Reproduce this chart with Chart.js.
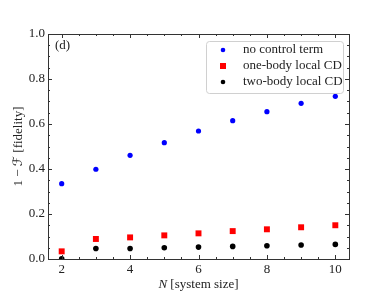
<!DOCTYPE html>
<html>
<head>
<meta charset="utf-8">
<script src="https://cdn.jsdelivr.net/npm/chart.js@4.4.1/dist/chart.umd.min.js"></script>
<style>
  html, body { margin: 0; padding: 0; background: #fff; }
  #wrap { width: 388px; height: 291px; position: relative; }
</style>
</head>
<body>
<div id="wrap"><canvas id="chart"></canvas></div>
<script>
// data
var sizes = [2, 3, 4, 5, 6, 7, 8, 9, 10];
var noControl = [0.335, 0.399, 0.461, 0.517, 0.569, 0.615, 0.655, 0.692, 0.723];
var oneBodyCD = [0.034, 0.089, 0.096, 0.105, 0.114, 0.124, 0.132, 0.141, 0.150];
var twoBodyCD = [0.001, 0.047, 0.047, 0.050, 0.053, 0.056, 0.059, 0.062, 0.065];
var xTicks = [2, 4, 6, 8, 10];
var yTicks = [0, 0.2, 0.4, 0.6, 0.8, 1.0];
var seriesNames = ["no control term", "one-body local CD", "two-body local CD"];

var serif = "'Liberation Serif', 'DejaVu Serif', serif";
var ink = "#222";

function pts(ys) {
  return sizes.map(function (n, i) { return { x: n, y: ys[i] }; });
}

// inward ticks on all four sides, the frame, the panel label and the legend box
var decor = {
  id: "decor",
  afterDraw: function (chart) {
    var ctx = chart.ctx, a = chart.chartArea;
    var xs = chart.scales.x, ys = chart.scales.y;
    ctx.save();
    ctx.strokeStyle = "#333";
    ctx.lineWidth = 1;
    var v, px, len;
    for (v = 2; v <= 10.001; v += 0.5) {
      px = Math.round(xs.getPixelForValue(v)) + 0.5;
      len = (Math.abs(v - Math.round(v / 2) * 2) < 1e-6) ? 4 : 2;
      ctx.beginPath();
      ctx.moveTo(px, a.bottom); ctx.lineTo(px, a.bottom - len);
      ctx.moveTo(px, a.top); ctx.lineTo(px, a.top + len);
      ctx.stroke();
    }
    for (v = 0; v <= 1.0001; v += 0.05) {
      px = Math.round(ys.getPixelForValue(v)) + 0.5;
      len = (Math.abs(v * 5 - Math.round(v * 5)) < 1e-6) ? 4 : 2;
      ctx.beginPath();
      ctx.moveTo(a.left, px); ctx.lineTo(a.left + len, px);
      ctx.moveTo(a.right, px); ctx.lineTo(a.right - len, px);
      ctx.stroke();
    }
    ctx.strokeRect(Math.round(a.left) + 0.5, Math.round(a.top) + 0.5,
      Math.round(a.right - a.left), Math.round(a.bottom - a.top));

    // panel label
    ctx.fillStyle = ink;
    ctx.font = "13px " + serif;
    ctx.textBaseline = "middle";
    ctx.textAlign = "left";
    ctx.fillText("(d)", a.left + 7, a.top + 12);

    // x axis title with italic N
    var italic = "italic 13px " + serif, plain = "13px " + serif;
    ctx.font = italic;
    var w1 = ctx.measureText("N").width;
    ctx.font = plain;
    var w2 = ctx.measureText(" [system size]").width;
    var cx = (a.left + a.right) / 2 - (w1 + w2) / 2;
    ctx.font = italic;
    ctx.fillText("N", cx, 285);
    ctx.font = plain;
    ctx.fillText(" [system size]", cx + w1, 285);

    // legend
    var bx = 206.5, by = 41.5, bw = 137, bh = 52;
    ctx.beginPath();
    ctx.roundRect(bx, by, bw, bh, 3);
    ctx.fillStyle = "rgba(255,255,255,0.8)";
    ctx.fill();
    ctx.strokeStyle = "#d0d0d0";
    ctx.stroke();
    chart.data.datasets.forEach(function (ds, i) {
      var ry = 50 + i * 16;
      ctx.fillStyle = ds.backgroundColor;
      if (ds.pointStyle === "rect") {
        ctx.fillRect(220, ry - 3, 6, 6);
      } else {
        ctx.beginPath();
        ctx.arc(223, ry, 2.3, 0, Math.PI * 2);
        ctx.fill();
      }
      ctx.fillStyle = ink;
      ctx.font = plain;
      ctx.fillText(ds.label, 243, ry);
    });
    ctx.restore();
  }
};

var ctx = document.getElementById("chart").getContext("2d");

var myChart = new Chart(ctx, {
  type: "scatter",
  data: {
    datasets: [
      {
        label: seriesNames[0],
        data: pts(noControl),
        backgroundColor: "#0000ff",
        borderWidth: 0,
        pointStyle: "circle",
        pointRadius: 2.6
      },
      {
        label: seriesNames[1],
        data: pts(oneBodyCD),
        backgroundColor: "#ff0000",
        borderWidth: 0,
        pointStyle: "rect",
        pointRadius: 4.2
      },
      {
        label: seriesNames[2],
        data: pts(twoBodyCD),
        backgroundColor: "#000000",
        borderWidth: 0,
        pointStyle: "circle",
        pointRadius: 2.8
      }
    ]
  },
  options: {
    responsive: true,
    maintainAspectRatio: false,
    animation: false,
    layout: { padding: { left: 0, top: 34, right: 39, bottom: 0 } },
    plugins: {
      legend: { display: false },
      tooltip: { enabled: false }
    },
    scales: {
      x: {
        type: "linear",
        min: 1.6,
        max: 10.4,
        grid: { display: false, drawTicks: false },
        border: { display: false },
        afterBuildTicks: function (s) {
          s.ticks = xTicks.map(function (v) { return { value: v }; });
        },
        afterFit: function (s) { s.height = 32; },
        ticks: {
          color: ink,
          padding: 3,
          maxRotation: 0,
          font: { family: serif, size: 13 },
          callback: function (v) { return String(v); }
        }
      },
      y: {
        type: "linear",
        min: 0,
        max: 1,
        grid: { display: false, drawTicks: false },
        border: { display: false },
        afterBuildTicks: function (s) {
          s.ticks = yTicks.map(function (v) { return { value: v }; });
        },
        afterFit: function (s) { s.width = 48; },
        ticks: {
          color: ink,
          padding: 3,
          font: { family: serif, size: 13 },
          callback: function (v) { return Number(v).toFixed(1); }
        },
        title: {
          display: true,
          text: "1 \u2212 \u2131 [fidelity]",
          color: ink,
          padding: { top: 11, bottom: 0 },
          font: { family: "'Liberation Serif', 'DejaVu Sans', serif", size: 13 }
        }
      }
    }
  },
  plugins: [decor]
});
</script>
</body>
</html>
